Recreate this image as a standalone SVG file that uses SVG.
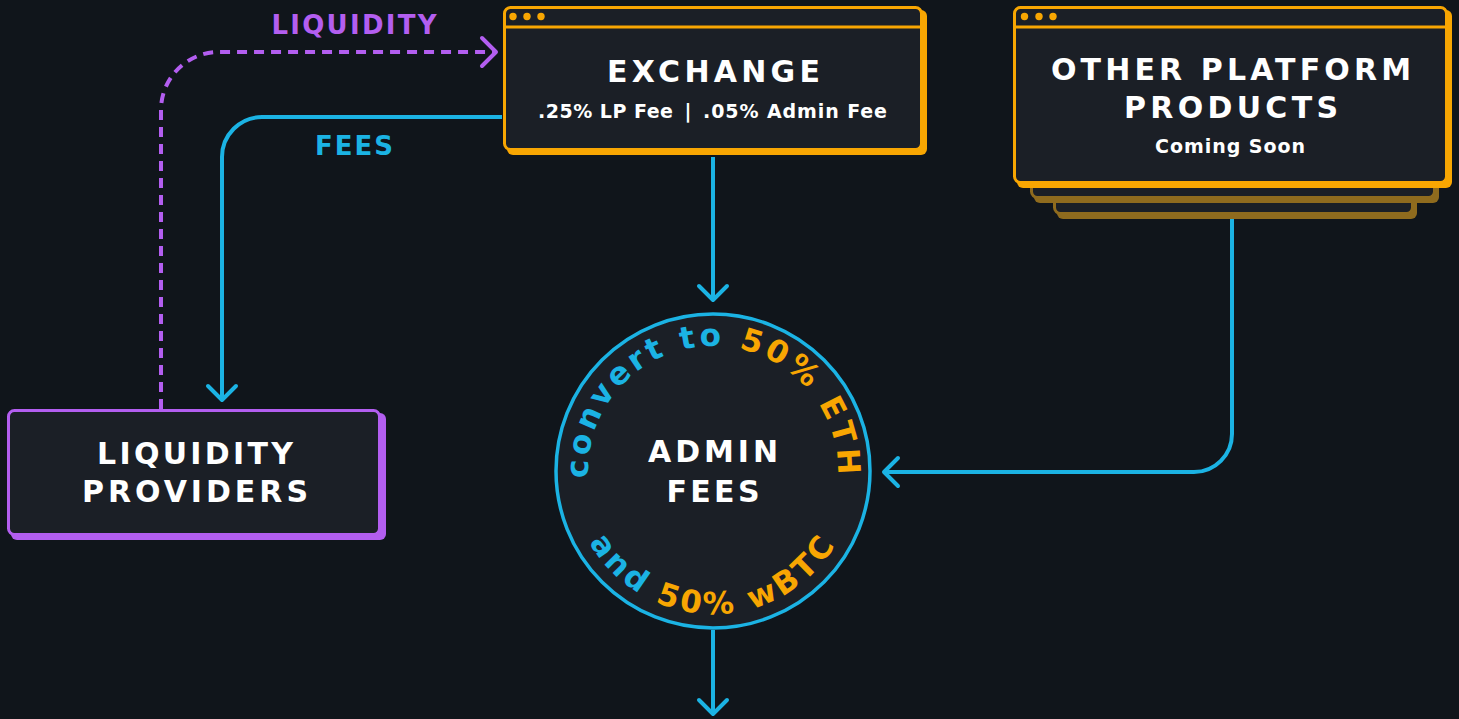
<svg xmlns="http://www.w3.org/2000/svg" width="1459" height="719" viewBox="0 0 1459 719">
<style>
.bg{fill:#10151b}
.ob{fill:#1b1f26;stroke:#f8a602;stroke-width:3}
.osh{fill:#f8a602}
.sb{fill:#1b1f26;stroke:#8f6b1e;stroke-width:3}
.ssh{fill:#8f6b1e}
.pb{fill:#1b1f26;stroke:#b35ef0;stroke-width:3}
.psh{fill:#b35ef0}
.hdr{stroke:#f8a602;stroke-width:3}
.dot{fill:#f8a602}
.h{font-family:"DejaVu Sans",sans-serif;font-weight:700;font-size:30px;fill:#ffffff}
.sub{font-family:"DejaVu Sans",sans-serif;font-weight:700;font-size:19px;fill:#ffffff}
.lbl{font-family:"DejaVu Sans",sans-serif;font-weight:700;font-size:26px}
.arc{font-family:"DejaVu Sans",sans-serif;font-weight:700;font-size:31px;letter-spacing:3.5px}
.cy{fill:#1bb3e4}
.or{fill:#f8a602}
.pu{fill:#b35ef0}
.lnC{fill:none;stroke:#1bb3e4;stroke-width:4;marker-end:url(#arrC)}
.lnP{fill:none;stroke:#b35ef0;stroke-width:4;stroke-dasharray:10 7;marker-end:url(#arrP)}
</style>
<defs>
<marker id="arrC" viewBox="-18 -18 22 36" refX="0" refY="0" markerWidth="22" markerHeight="36" markerUnits="userSpaceOnUse" orient="auto" overflow="visible">
<path d="M-14,-14 L0,0 L-14,14" fill="none" stroke="#1bb3e4" stroke-width="4" stroke-linecap="round" stroke-linejoin="round"/>
</marker>
<marker id="arrP" viewBox="-18 -18 22 36" refX="0" refY="0" markerWidth="22" markerHeight="36" markerUnits="userSpaceOnUse" orient="auto" overflow="visible">
<path d="M-14,-14 L0,0 L-14,14" fill="none" stroke="#b35ef0" stroke-width="4" stroke-linecap="round" stroke-linejoin="round"/>
</marker>
<path id="topArc" d="M713,596 A125,125 0 0 1 713,346 A125,125 0 0 1 713,596"/>
<path id="botArc" d="M713,328 A143,143 0 0 0 713,614 A143,143 0 0 0 713,328"/>
</defs>
<rect class="bg" x="0" y="0" width="1459" height="719"/>

<g id="connectors">
<path class="lnC" d="M713,157 L713,300"/>
<path class="lnC" d="M713,630 L713,714"/>
<path class="lnC" d="M1232,190 L1232,434 A38,38 0 0 1 1194,472 L884,472"/>
<path class="lnC" d="M502,117 L262,117 A40,40 0 0 0 222,157 L222,400"/>
<path class="lnP" d="M161,409 L161,110 A58,58 0 0 1 219,52 L496,52"/>
<text class="lbl pu" x="354" y="34" text-anchor="middle" textLength="165" lengthAdjust="spacing">LIQUIDITY</text>
<text class="lbl cy" x="354" y="155" text-anchor="middle" textLength="78" lengthAdjust="spacing">FEES</text>
</g>

<g id="exchange">
<rect class="osh" x="507" y="10" width="420" height="145" rx="6"/>
<rect class="ob" x="504.5" y="7.5" width="417" height="142" rx="6"/>
<line class="hdr" x1="504" y1="27" x2="922" y2="27"/>
<circle class="dot" cx="513" cy="16.5" r="3.7"/>
<circle class="dot" cx="527" cy="16.5" r="3.7"/>
<circle class="dot" cx="541" cy="16.5" r="3.7"/>
<text class="h" x="713.5" y="82" text-anchor="middle" textLength="213" lengthAdjust="spacing">EXCHANGE</text>
<text class="sub" x="538" y="118" textLength="135" lengthAdjust="spacing">.25% LP Fee</text>
<text class="sub" x="688" y="118" text-anchor="middle">|</text>
<text class="sub" x="703" y="118" textLength="184" lengthAdjust="spacing">.05% Admin Fee</text>
</g>

<g id="other-platform-products">
<rect class="ssh" x="1057" y="154" width="360" height="65" rx="6"/>
<rect class="sb" x="1054.5" y="151.5" width="358" height="62" rx="6"/>
<rect class="ssh" x="1034" y="140" width="405" height="63" rx="6"/>
<rect class="sb" x="1031.5" y="137.5" width="403" height="60" rx="6"/>
<rect class="osh" x="1017" y="10" width="435" height="178" rx="6"/>
<rect class="ob" x="1014.5" y="7.5" width="432" height="175" rx="6"/>
<line class="hdr" x1="1014" y1="27" x2="1447" y2="27"/>
<circle class="dot" cx="1024.5" cy="16.5" r="3.7"/>
<circle class="dot" cx="1039" cy="16.5" r="3.7"/>
<circle class="dot" cx="1053" cy="16.5" r="3.7"/>
<text class="h" x="1231" y="80" text-anchor="middle" textLength="360" lengthAdjust="spacing">OTHER PLATFORM</text>
<text class="h" x="1231" y="118" text-anchor="middle" textLength="214" lengthAdjust="spacing">PRODUCTS</text>
<text class="sub" x="1230" y="153" text-anchor="middle" textLength="150" lengthAdjust="spacing">Coming Soon</text>
</g>

<g id="liquidity-providers">
<rect class="psh" x="11" y="413" width="375" height="127" rx="6"/>
<rect class="pb" x="8.5" y="410.5" width="371" height="124" rx="6"/>
<text class="h" x="195" y="464" text-anchor="middle" textLength="196" lengthAdjust="spacing">LIQUIDITY</text>
<text class="h" x="195" y="502" text-anchor="middle" textLength="226" lengthAdjust="spacing">PROVIDERS</text>
</g>

<g id="admin-fees">
<circle cx="713" cy="471" r="157" fill="#1b1f26" stroke="#1bb3e4" stroke-width="3.5"/>
<text class="h" x="713" y="462" text-anchor="middle" textLength="130" lengthAdjust="spacing">ADMIN</text>
<text class="h" x="713" y="502" text-anchor="middle" textLength="93" lengthAdjust="spacing">FEES</text>
<text class="arc" text-anchor="middle"><textPath href="#topArc" startOffset="50%"><tspan class="cy">convert to </tspan><tspan class="or">50% ETH</tspan></textPath></text>
<text class="arc" text-anchor="middle"><textPath href="#botArc" startOffset="50%"><tspan class="cy">and </tspan><tspan class="or">50% wBTC</tspan></textPath></text>
</g>
</svg>
